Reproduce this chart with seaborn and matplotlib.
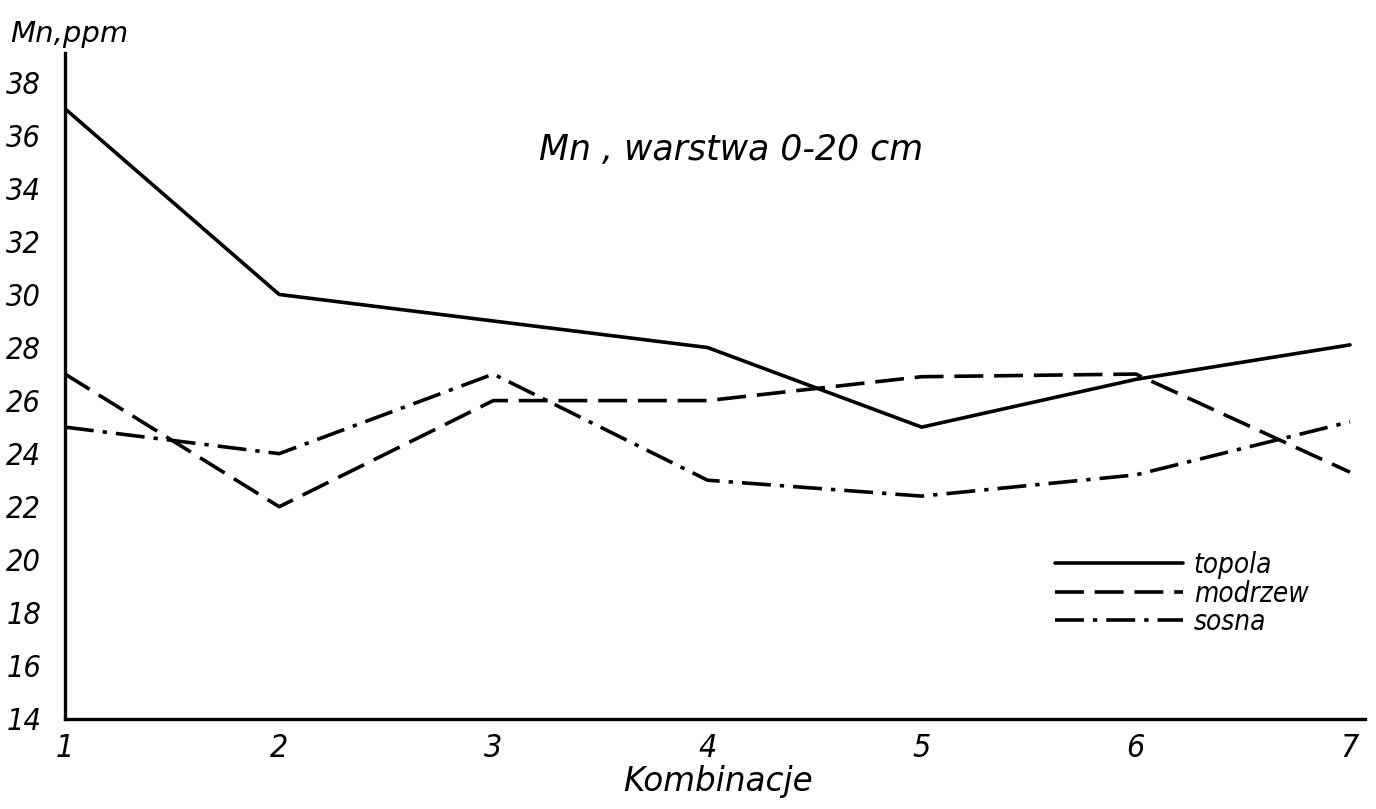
import matplotlib
matplotlib.use("Agg")
import matplotlib.pyplot as plt
import seaborn as sns
import pandas as pd

kombinacje = [1, 2, 3, 4, 5, 6, 7]
topola = [37.0, 30.0, 29.0, 28.0, 25.0, 26.8, 28.1]
modrzew = [27.0, 22.0, 26.0, 26.0, 26.9, 27.0, 23.3]
sosna = [25.0, 24.0, 27.0, 23.0, 22.4, 23.2, 25.2]
series_names = ["topola", "modrzew", "sosna"]
yticks = [14, 16, 18, 20, 22, 24, 26, 28, 30, 32, 34, 36, 38]

df = pd.DataFrame({
    "Kombinacje": kombinacje * 3,
    "Mn": topola + modrzew + sosna,
    "gatunek": sum([[n] * len(kombinacje) for n in series_names], []),
})

sns.set_theme(style="white")
plt.rcParams["font.family"] = ["DejaVu Sans"]
plt.rcParams["font.stretch"] = "condensed"
plt.rcParams["font.style"] = "italic"
plt.rcParams["text.color"] = "black"
plt.rcParams["xtick.color"] = "black"
plt.rcParams["ytick.color"] = "black"

fig = plt.figure(figsize=(13.76, 8.09), dpi=100)
ax = fig.add_axes([65 / 1376, 1 - 719 / 809, (1365 - 65) / 1376, (719 - 53) / 809])

dashes = {"topola": "", "modrzew": (8, 3), "sosna": (8, 2.5, 1.2, 2.5)}
sns.lineplot(data=df, x="Kombinacje", y="Mn", hue="gatunek", style="gatunek",
             palette=["black"] * 3, dashes=dashes, linewidth=2.6, ax=ax,
             legend=True)

ax.set_xlim(1, 7.07)
ax.set_ylim(14, 39.1)
ax.set_xticks(kombinacje)
ax.set_xticklabels([str(k) for k in kombinacje], fontsize=23, style="italic",
                   stretch="condensed")
ax.set_yticks(yticks)
ax.set_yticklabels([str(t) for t in yticks], fontsize=22, style="italic",
                   stretch="condensed", weight="medium")
ax.tick_params(axis="y", direction="in", length=14, width=1.8, pad=17, colors="black")
ax.tick_params(axis="x", direction="in", length=20, width=1.8, pad=10, colors="black")
for s in ["top", "right"]:
    ax.spines[s].set_visible(False)
for s in ["left", "bottom"]:
    ax.spines[s].set_linewidth(2.4)
    ax.spines[s].set_color("black")
ax.set_xlabel("")
ax.set_ylabel("")

fig.text(10 / 1376, 1 - 34 / 809, "Mn,ppm", fontsize=21, style="italic",
         stretch="normal", ha="left", va="center", color="black")
fig.text(731 / 1376, 1 - 150 / 809, "Mn , warstwa 0-20 cm", fontsize=25,
         style="italic", stretch="normal", ha="center", va="center", color="black")
fig.text(718 / 1376, 1 - 782 / 809, "Kombinacje", fontsize=23.5, style="italic",
         stretch="normal", ha="center", va="center", color="black")

handles, labels = ax.get_legend_handles_labels()
leg = ax.legend(handles, labels, loc="upper left",
                bbox_to_anchor=(1055 / 1376, 1 - 551 / 809),
                bbox_transform=fig.transFigure, frameon=False, fontsize=20,
                handlelength=4.6, handletextpad=0.4, labelspacing=0.02,
                borderpad=0, borderaxespad=0)
for t in leg.get_texts():
    t.set_color("black")
    t.set_fontstretch("condensed")
    t.set_fontstyle("italic")

fig.savefig("out.png", dpi=100)
